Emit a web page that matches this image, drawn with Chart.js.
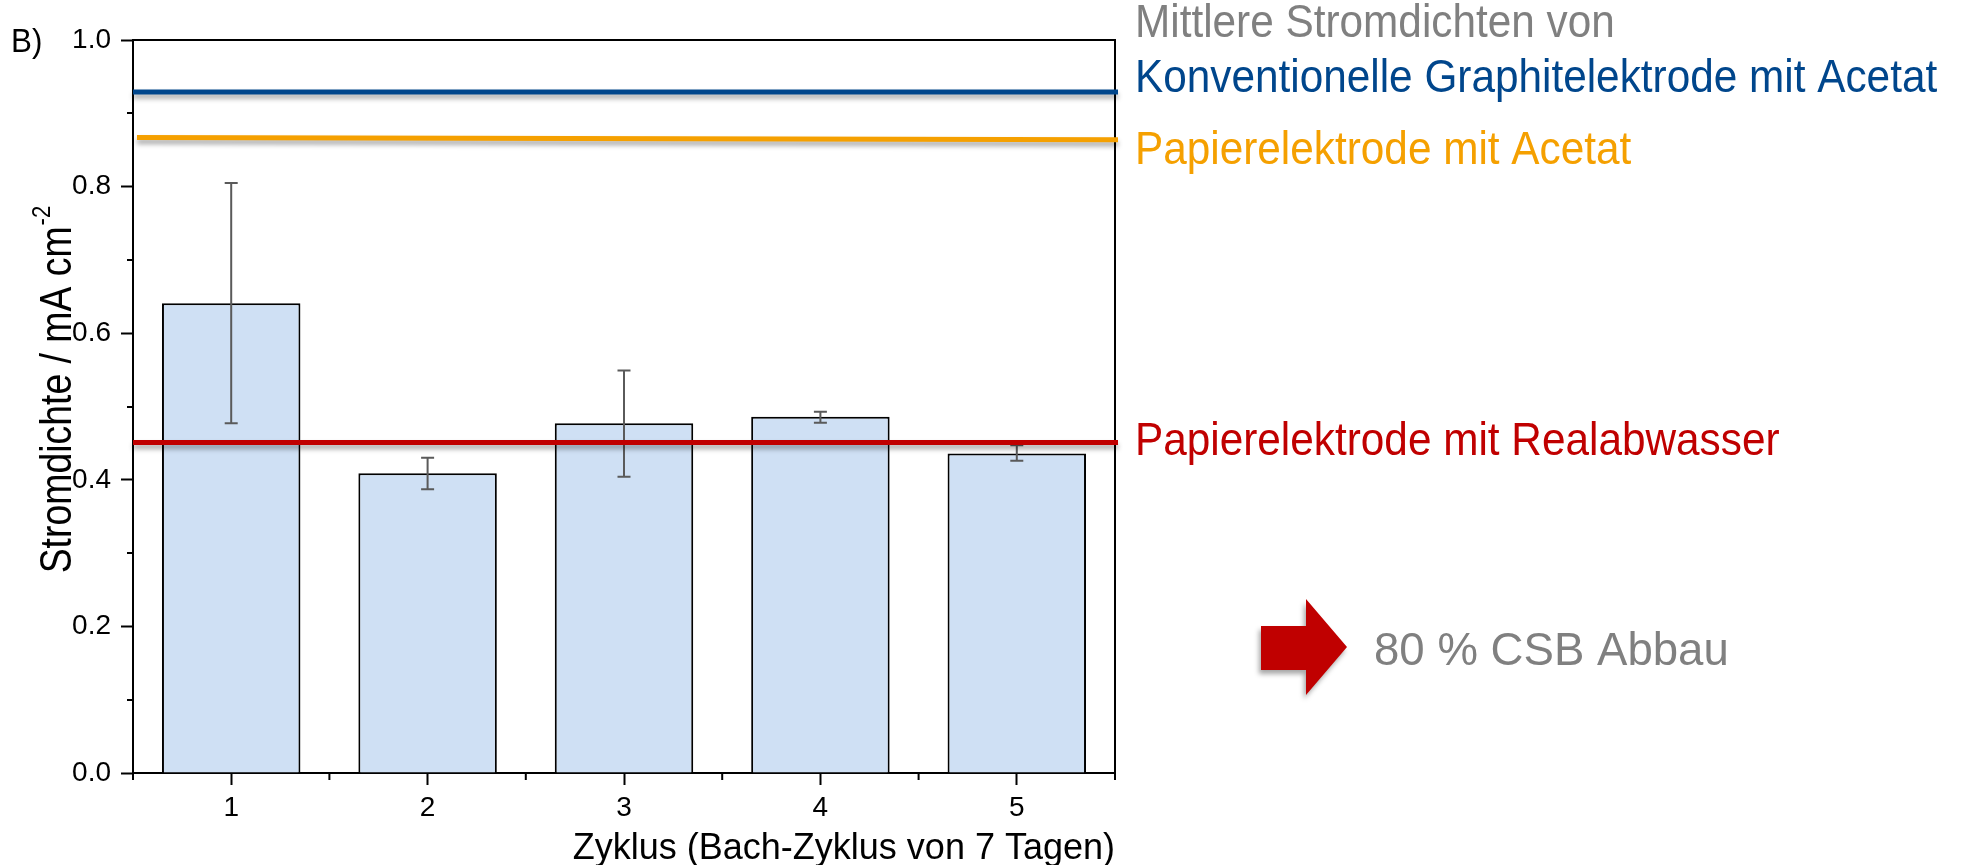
<!DOCTYPE html>
<html>
<head>
<meta charset="utf-8">
<script src="https://cdn.jsdelivr.net/npm/chart.js@4"></script>
<style>
  html, body { margin: 0; padding: 0; background: #ffffff; }
</style>
</head>
<body>
<canvas id="chart" width="1964" height="865"></canvas>
<script>
// data
const cycles = ['1', '2', '3', '4', '5'];
const currentDensity = [0.641, 0.409, 0.477, 0.486, 0.436];
const errLow = [0.477, 0.387, 0.404, 0.478, 0.426];
const errHigh = [0.805, 0.430, 0.549, 0.493, 0.447];

// mean current densities drawn as horizontal reference lines
const refNames = ['Konventionelle Graphitelektrode mit Acetat', 'Papierelektrode mit Acetat', 'Papierelektrode mit Realabwasser'];
const refStart = [0.929, 0.867, 0.451];
const refEnd = [0.929, 0.864, 0.451];
const refColors = ['#00468c', '#f5a000', '#c00000'];

const FONT = "'Liberation Sans', Arial, sans-serif";

function drawText(ctx, text, x, y, color, size, sx) {
  ctx.save();
  ctx.translate(x, y);
  ctx.scale(sx || 1, 1);
  ctx.font = size + 'px ' + FONT;
  ctx.fillStyle = color;
  ctx.textAlign = 'left';
  ctx.textBaseline = 'alphabetic';
  ctx.fillText(text, 0, 0);
  ctx.restore();
}

const extras = {
  id: 'extras',
  afterDatasetsDraw(chart) {
    const ctx = chart.ctx;
    const x = chart.scales.x;
    const y = chart.scales.y;
    const area = chart.chartArea;
    const bars = chart.getDatasetMeta(0).data;

    // error bars
    ctx.save();
    ctx.strokeStyle = '#5a5a5a';
    ctx.lineWidth = 2;
    bars.forEach((bar, i) => {
      const yt = y.getPixelForValue(errHigh[i]);
      const yb = y.getPixelForValue(errLow[i]);
      ctx.beginPath();
      ctx.moveTo(bar.x, yt); ctx.lineTo(bar.x, yb);
      ctx.moveTo(bar.x - 6.5, yt); ctx.lineTo(bar.x + 6.5, yt);
      ctx.moveTo(bar.x - 6.5, yb); ctx.lineTo(bar.x + 6.5, yb);
      ctx.stroke();
    });
    ctx.restore();

    // frame: top and right
    ctx.save();
    ctx.strokeStyle = '#000';
    ctx.lineWidth = 2;
    ctx.beginPath();
    ctx.moveTo(area.left, area.top);
    ctx.lineTo(area.right, area.top);
    ctx.lineTo(area.right, area.bottom + 7);
    ctx.stroke();

    // minor ticks
    ctx.beginPath();
    for (let v = 0.1; v < 1; v += 0.2) {
      const py = Math.round(y.getPixelForValue(v));
      ctx.moveTo(area.left, py); ctx.lineTo(area.left - 6, py);
    }
    for (let i = 0; i <= cycles.length; i++) {
      const px = x.getPixelForValue(i - 0.5);
      ctx.moveTo(px, area.bottom); ctx.lineTo(px, area.bottom + 7);
    }
    ctx.stroke();
    ctx.restore();

    // reference lines
    refNames.forEach((name, i) => {
      ctx.save();
      ctx.shadowColor = 'rgba(0,0,0,0.35)';
      ctx.shadowBlur = 5;
      ctx.shadowOffsetY = 4;
      ctx.strokeStyle = refColors[i];
      ctx.lineWidth = 5;
      ctx.beginPath();
      ctx.moveTo(area.left + (i === 1 ? 4 : 0), y.getPixelForValue(refStart[i]));
      ctx.lineTo(area.right + 3, y.getPixelForValue(refEnd[i]));
      ctx.stroke();
      ctx.restore();
    });
  },
  afterDraw(chart) {
    const ctx = chart.ctx;

    // panel letter
    drawText(ctx, 'B)', 11, 52, '#000', 33, 0.95);

    // y axis title with superscript
    ctx.save();
    ctx.translate(57, 390);
    ctx.rotate(-Math.PI / 2);
    ctx.scale(0.85, 1);
    ctx.font = '44px ' + FONT;
    const main = 'Stromdichte / mA cm';
    const w1 = ctx.measureText(main).width;
    ctx.font = '26px ' + FONT;
    const w2 = ctx.measureText('-2').width;
    const start = -(w1 + w2) / 2;
    ctx.fillStyle = '#000';
    ctx.textBaseline = 'alphabetic';
    ctx.font = '44px ' + FONT;
    ctx.fillText(main, start, 14);
    ctx.font = '26px ' + FONT;
    ctx.fillText('-2', start + w1 + 1, -7);
    ctx.restore();

    // annotations on the right
    drawText(ctx, 'Mittlere Stromdichten von', 1135, 37, '#808080', 46, 0.92);
    drawText(ctx, refNames[0], 1135, 92, refColors[0], 46, 0.92);
    drawText(ctx, refNames[1], 1135, 164, refColors[1], 46, 0.92);
    drawText(ctx, refNames[2], 1135, 455, refColors[2], 46, 0.92);

    // arrow
    ctx.save();
    ctx.shadowColor = 'rgba(0,0,0,0.35)';
    ctx.shadowBlur = 5;
    ctx.shadowOffsetX = -2;
    ctx.shadowOffsetY = 4;
    ctx.fillStyle = '#c00000';
    ctx.beginPath();
    ctx.moveTo(1261, 626);
    ctx.lineTo(1306, 626);
    ctx.lineTo(1306, 599);
    ctx.lineTo(1347, 647);
    ctx.lineTo(1306, 695);
    ctx.lineTo(1306, 670);
    ctx.lineTo(1261, 670);
    ctx.closePath();
    ctx.fill();
    ctx.restore();

    drawText(ctx, '80 % CSB Abbau', 1374, 665, '#808080', 47, 0.97);
  }
};

const config = {
  type: 'bar',
  data: {
    labels: cycles,
    datasets: [{
      label: 'Stromdichte',
      data: currentDensity,
      backgroundColor: '#cfe0f4',
      borderColor: '#000000',
      borderWidth: 2,
      barPercentage: 0.705,
      categoryPercentage: 1.0
    }]
  },
  options: {
    responsive: false,
    animation: false,
    layout: {
      padding: { top: 40, right: 849, bottom: 0, left: 0 }
    },
    plugins: {
      legend: { display: false },
      tooltip: { enabled: false }
    },
    scales: {
      x: {
        afterFit: (scale) => { scale.height = 92; },
        grid: {
          offset: false,
          drawOnChartArea: false,
          tickLength: 12,
          tickWidth: 2,
          tickColor: '#000'
        },
        border: { color: '#000', width: 2 },
        ticks: {
          color: '#000',
          padding: 6,
          font: { family: FONT, size: 28 }
        },
        title: {
          display: true,
          text: 'Zyklus (Bach-Zyklus von 7 Tagen)',
          align: 'end',
          color: '#000',
          padding: { top: 0, bottom: 0 },
          font: { family: FONT, size: 36, lineHeight: 0.9 }
        }
      },
      y: {
        min: 0,
        max: 1,
        afterFit: (scale) => { scale.width = 133; },
        grid: {
          drawOnChartArea: false,
          tickLength: 12,
          tickWidth: 2,
          tickColor: '#000'
        },
        border: { color: '#000', width: 2 },
        ticks: {
          stepSize: 0.2,
          color: '#000',
          padding: 10,
          font: { family: FONT, size: 28 },
          callback: (v) => v.toFixed(1)
        }
      }
    }
  },
  plugins: [extras]
};

const chart = new Chart(document.getElementById('chart'), config);
</script>
</body>
</html>
